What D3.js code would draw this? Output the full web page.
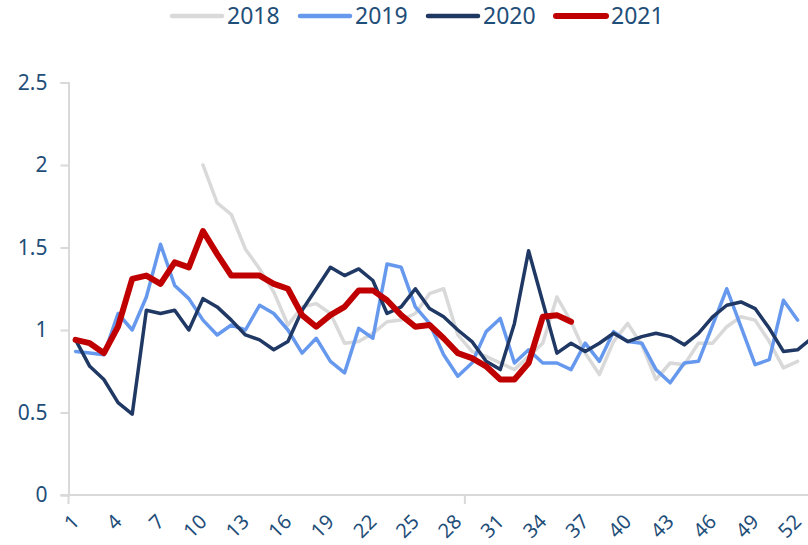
<!DOCTYPE html>
<html>
<head>
<meta charset="utf-8">
<script src="https://cdn.jsdelivr.net/npm/d3@7"></script>
<style>
  body { margin: 0; background: #fff; }
  text { font-family: "Noto Sans", sans-serif; fill: #1F4E79; }
</style>
</head>
<body>
<script>
// weekly ratio by year, week 1..53
var weeks = d3.range(1, 54);
var xTickLabels = [1, 4, 7, 10, 13, 16, 19, 22, 25, 28, 31, 34, 37, 40, 43, 46, 49, 52];
var yTickValues = [0, 0.5, 1, 1.5, 2, 2.5];
var seriesNames = ['2018', '2019', '2020', '2021'];
var seriesColors = ['#D9D9D9', '#6699EE', '#1F3864', '#C00000'];

var s2018 = [null, null, null, null, null, null, null, null, null,
  2.00, 1.77, 1.70, 1.49, 1.37, 1.23, 1.03, 1.14, 1.16, 1.10, 0.92,
  0.93, 0.98, 1.05, 1.06, 1.10, 1.22, 1.25, 0.97, 0.87, 0.84,
  0.80, 0.76, 0.84, 0.92, 1.20, 1.05, 0.86, 0.73, 0.93, 1.04,
  0.91, 0.70, 0.80, 0.79, 0.92, 0.92, 1.02, 1.08, 1.06, 0.93,
  0.77, 0.81];
var s2019 = [0.87, 0.86, 0.85, 1.10, 1.00, 1.20, 1.52, 1.27, 1.19, 1.06,
  0.97, 1.03, 1.00, 1.15, 1.10, 1.00, 0.86, 0.95, 0.81, 0.74,
  1.01, 0.95, 1.40, 1.38, 1.14, 1.04, 0.85, 0.72, 0.80, 0.99,
  1.07, 0.80, 0.88, 0.80, 0.80, 0.76, 0.92, 0.81, 0.99, 0.93,
  0.92, 0.76, 0.68, 0.80, 0.81, 1.03, 1.25, 1.02, 0.79, 0.82,
  1.18, 1.06];
var s2020 = [0.94, 0.78, 0.70, 0.56, 0.49, 1.12, 1.10, 1.12, 1.00, 1.19,
  1.14, 1.06, 0.97, 0.94, 0.88, 0.93, 1.12, 1.25, 1.38, 1.33,
  1.37, 1.30, 1.10, 1.14, 1.25, 1.13, 1.08, 1.00, 0.93, 0.81,
  0.76, 1.04, 1.48, 1.17, 0.86, 0.92, 0.87, 0.92, 0.98, 0.93,
  0.96, 0.98, 0.96, 0.91, 0.98, 1.08, 1.15, 1.17, 1.13, 1.01,
  0.87, 0.88, 0.95];
var s2021 = [0.94, 0.92, 0.86, 1.02, 1.31, 1.33, 1.28, 1.41, 1.38, 1.60,
  1.46, 1.33, 1.33, 1.33, 1.28, 1.25, 1.09, 1.02, 1.09, 1.14,
  1.24, 1.24, 1.18, 1.09, 1.02, 1.03, 0.95, 0.86, 0.83, 0.78,
  0.70, 0.70, 0.80, 1.08, 1.09, 1.05];
var seriesValues = [s2018, s2019, s2020, s2021];

var width = 808, height = 545;

var svg = d3.select('body').append('svg')
    .attr('width', width)
    .attr('height', height);

var x = d3.scaleLinear().domain([0.5, 53.5]).range([68.5, 818.8]);
var y = d3.scaleLinear().domain([0, 2.5]).range([495, 82.5]);

// axes
var yAxis = svg.append('g')
    .attr('transform', 'translate(' + x(0.5) + ',0)')
    .call(d3.axisLeft(y).tickValues(yTickValues).tickSize(8).tickPadding(13)
      .tickFormat(function(d){ return String(d); }));
yAxis.select('.domain').attr('stroke', '#D9D9D9').attr('stroke-width', 2);
yAxis.selectAll('.tick line').attr('stroke', '#D9D9D9').attr('stroke-width', 2);
yAxis.selectAll('.tick text').attr('font-size', 21).style('fill', '#1F4E79');

svg.append('line')
    .attr('x1', x(0.5) - 8).attr('x2', width)
    .attr('y1', y(0)).attr('y2', y(0))
    .attr('stroke', '#D9D9D9').attr('stroke-width', 2);
svg.selectAll('.xtick')
  .data([0.5, 28.5])
  .enter().append('line')
    .attr('class', 'xtick')
    .attr('x1', function(d){ return x(d); }).attr('x2', function(d){ return x(d); })
    .attr('y1', y(0)).attr('y2', y(0) + 9)
    .attr('stroke', '#D9D9D9').attr('stroke-width', 2);

svg.selectAll('.xlabel')
  .data(xTickLabels)
  .enter().append('text')
    .attr('class', 'xlabel')
    .attr('text-anchor', 'end')
    .attr('font-size', 20)
    .attr('transform', function(d){ return 'translate(' + (x(d) + 5) + ',' + 523 + ') rotate(-45)'; })
    .text(function(d){ return d; });

// lines
var line = d3.line()
    .defined(function(d){ return d != null; })
    .x(function(d, i){ return x(weeks[i]); })
    .y(function(d){ return y(d); });

seriesValues.forEach(function(vals, k){
  svg.append('path')
    .datum(vals)
    .attr('fill', 'none')
    .attr('stroke', seriesColors[k])
    .attr('stroke-width', k == 3 ? 6 : 3.5)
    .attr('stroke-linejoin', 'round')
    .attr('stroke-linecap', 'round')
    .attr('d', line);
});

// legend
var legend = svg.selectAll('.legend')
  .data(seriesNames)
  .enter().append('g')
    .attr('class', 'legend')
    .attr('transform', function(d, i){ return 'translate(' + (172 + i * 128) + ',16)'; });
legend.append('line')
    .attr('x1', 0).attr('x2', 50)
    .attr('stroke', function(d, i){ return seriesColors[i]; })
    .attr('stroke-width', function(d, i){ return i == 3 ? 6 : 4.5; })
    .attr('stroke-linecap', 'round');
legend.append('text')
    .attr('x', 55).attr('dy', '0.35em')
    .attr('font-size', 23)
    .text(function(d){ return d; });
</script>
</body>
</html>
